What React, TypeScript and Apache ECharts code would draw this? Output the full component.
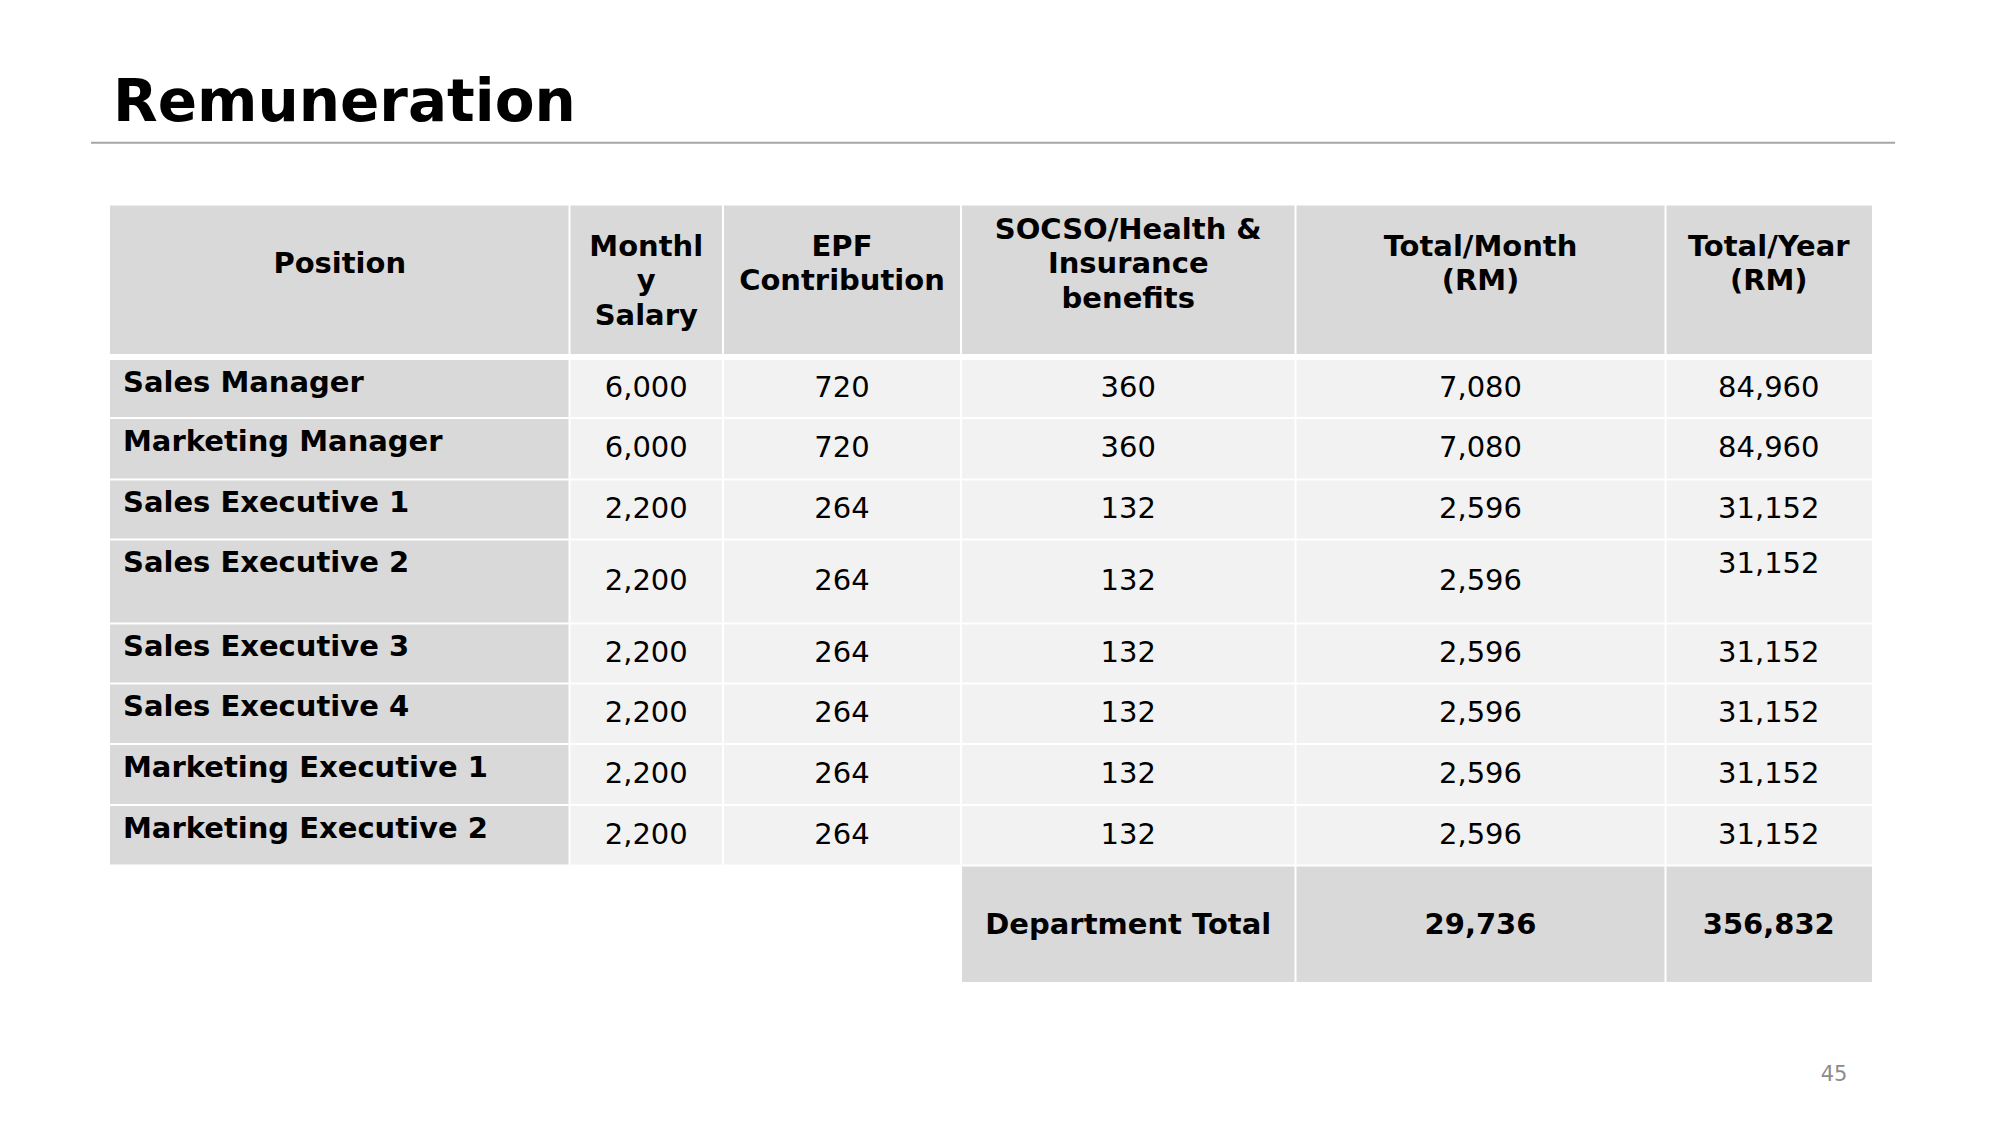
import React, { useEffect, useRef } from "react";
import * as echarts from "echarts";

const title = "Remuneration";
const pageNumber = "45";
const headers = [
  "Position",
  "Monthl\ny\nSalary",
  "EPF\nContribution",
  "SOCSO/Health &\nInsurance\nbenefits",
  "Total/Month\n(RM)",
  "Total/Year\n(RM)",
];
const positions = [
  "Sales Manager",
  "Marketing Manager",
  "Sales Executive 1",
  "Sales Executive 2",
  "Sales Executive 3",
  "Sales Executive 4",
  "Marketing Executive 1",
  "Marketing Executive 2",
];
const monthlySalary = [6000, 6000, 2200, 2200, 2200, 2200, 2200, 2200];
const epfContribution = [720, 720, 264, 264, 264, 264, 264, 264];
const socsoBenefits = [360, 360, 132, 132, 132, 132, 132, 132];
const totalMonth = [7080, 7080, 2596, 2596, 2596, 2596, 2596, 2596];
const totalYear = [84960, 84960, 31152, 31152, 31152, 31152, 31152, 31152];
const totalLabel = "Department Total";
const departmentTotalMonth = 29736;
const departmentTotalYear = 356832;

// layout
const FONT = "'DejaVu Sans', 'Noto Sans', sans-serif";
const colB = [110, 569.5, 723, 961, 1295.5, 1665.5, 1872];
const headerTop = 205.5;
const headerBottom = 354;
const rowB = [357, 418, 479.5, 539.5, 623.5, 683.5, 744, 805, 865.5];
const firstRowTop = 360;
const deptBottom = 982;

const fmt = (v: number) => v.toLocaleString("en-US");

function rect(x0: number, x1: number, y0: number, y1: number, fill: string) {
  return {
    type: "rect",
    silent: true,
    shape: { x: x0, y: y0, width: x1 - x0, height: y1 - y0 },
    style: { fill },
  };
}

function text(
  t: string,
  x: number,
  y: number,
  opts: { size?: number; weight?: string; align?: string; vAlign?: string; fill?: string; lh?: number } = {}
) {
  const align = opts.align || "center";
  const vAlign = opts.vAlign || "middle";
  return {
    type: "text",
    silent: true,
    x,
    y,
    style: {
      text: t,
      fill: opts.fill || "#000000",
      fontSize: opts.size || 29,
      fontWeight: opts.weight || "normal",
      fontFamily: FONT,
      lineHeight: opts.lh || 34.5,
      align,
      verticalAlign: vAlign,
      textAlign: align,
      textVerticalAlign: vAlign,
    },
  };
}

function cellX(i: number): [number, number] {
  const last = colB.length - 1;
  const x0 = i === 0 ? colB[0] : colB[i] + 1;
  const x1 = i + 1 === last ? colB[last] : colB[i + 1] - 1;
  return [x0, x1];
}

function buildGraphic() {
  const els: any[] = [];
  // title
  els.push(text(title, 113, 101, { size: 58, weight: "bold", align: "left", lh: 70 }));
  els.push({
    type: "line",
    silent: true,
    shape: { x1: 91, y1: 142.7, x2: 1895, y2: 142.7 },
    style: { stroke: "#a6a6a6", lineWidth: 2 },
  });

  // header
  const headerCenters = [263, 280.4, 263, 263, 263, 263];
  headers.forEach((h, i) => {
    const [x0, x1] = cellX(i);
    els.push(rect(x0, x1, headerTop, headerBottom, "#d9d9d9"));
  });
  headers.forEach((h, i) => {
    const cx = (colB[i] + colB[i + 1]) / 2;
    els.push(text(h, cx, headerCenters[i], { weight: "bold" }));
  });

  // data rows
  const columnsData = [monthlySalary, epfContribution, socsoBenefits, totalMonth, totalYear];
  positions.forEach((p, r) => {
    const top = r === 0 ? firstRowTop : rowB[r] + 1;
    const bottom = rowB[r + 1] - 1;
    for (let c = 0; c < 6; c++) {
      const [x0, x1] = cellX(c);
      els.push(rect(x0, x1, top, bottom, c === 0 ? "#d9d9d9" : "#f2f2f2"));
    }
    els.push(text(p, 123, top + 21.5, { weight: "bold", align: "left" }));
    columnsData.forEach((arr, k) => {
      const c = k + 1;
      const cx = (colB[c] + colB[c + 1]) / 2;
      const isTopAligned = c === 5 && bottom - top > 70;
      const y = isTopAligned ? top + 22 : (top + bottom) / 2 - 1.5;
      els.push(text(fmt(arr[r]), cx, y));
    });
  });

  // department total row
  const dTop = rowB[rowB.length - 1] + 1;
  for (let c = 3; c < 6; c++) {
    const [x0, x1] = cellX(c);
    els.push(rect(x0, x1, dTop, deptBottom, "#d9d9d9"));
  }
  const dMid = (dTop + deptBottom) / 2;
  els.push(text(totalLabel, (colB[3] + colB[4]) / 2, dMid, { weight: "bold" }));
  els.push(text(fmt(departmentTotalMonth), (colB[4] + colB[5]) / 2, dMid, { weight: "bold" }));
  els.push(text(fmt(departmentTotalYear), (colB[5] + colB[6]) / 2, dMid, { weight: "bold" }));

  // page number
  els.push(text(pageNumber, 1834, 1074, { size: 21, fill: "#8c8c8c", lh: 24 }));
  return els;
}

export default function App() {
  const ref = useRef<HTMLDivElement>(null);
  useEffect(() => {
    if (!ref.current) return;
    const chart = echarts.init(ref.current, undefined, { renderer: "svg" });
    chart.setOption({
      animation: false,
      backgroundColor: "#ffffff",
      graphic: { elements: buildGraphic() },
    });
    return () => chart.dispose();
  }, []);
  return (
    <div
      ref={ref}
      style={{ position: "fixed", left: 0, top: 0, width: 2001, height: 1125, background: "#ffffff" }}
    />
  );
}
